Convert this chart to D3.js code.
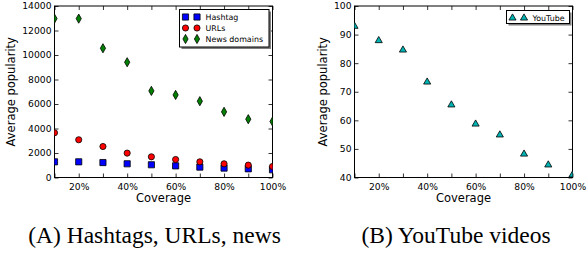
<!DOCTYPE html>
<html>
<head>
<meta charset="utf-8">
<script src="https://cdn.jsdelivr.net/npm/d3@7"></script>
<style>
  body { margin: 0; background: #fff; }
  svg text { font-family: "DejaVu Sans", sans-serif; fill: #000; }
  .caption { font-family: "Liberation Serif", "Times New Roman", serif; font-size: 23.5px; }
</style>
</head>
<body>
<div id="chart"></div>
<script>
// values
const coverage = [10, 20, 30, 40, 50, 60, 70, 80, 90, 100];
const hashtag = [1280, 1280, 1220, 1120, 1040, 950, 850, 770, 710, 630];
const urls = [3650, 3080, 2530, 1990, 1690, 1470, 1280, 1120, 1010, 900];
const news = [12970, 12970, 10550, 9410, 7070, 6740, 6230, 5360, 4760, 4570];
const youtube = [92.9, 87.9, 84.6, 73.4, 65.4, 58.7, 54.9, 48.2, 44.4, 40.9];

const yTicksA = [0, 2000, 4000, 6000, 8000, 10000, 12000, 14000];
const yTicksB = [40, 50, 60, 70, 80, 90, 100];

const width = 587;
const height = 257;

const svg = d3.select('#chart')
  .append('svg')
  .attr('width', width)
  .attr('height', height)

// marker shapes
const squareShape = d3.symbol(d3.symbolSquare, 38)
const circleShape = d3.symbol(d3.symbolCircle, 30)
const triangleShape = d3.symbol(d3.symbolTriangle, 22)
const thinDiamond = 'M0,-4.6L2.6,0L0,4.6L-2.6,0Z'

function drawPanel(opts) {
  const { id, x0, x1, y0, y1, yDomain, yTicks, series, legend, labelGap } = opts;

  const x = d3.scaleLinear().domain([10, 100]).range([x0, x1])
  const y = d3.scaleLinear().domain(yDomain).range([y1, y0])

  const g = svg.append('g').attr('id', id)

  g.append('clipPath').attr('id', id + '-clip')
    .append('rect')
    .attr('x', x0).attr('y', y0)
    .attr('width', x1 - x0).attr('height', y1 - y0)

  // axes with inward ticks, matplotlib style
  const fmtX = d => d % 20 === 0 ? d + '%' : ''
  g.append('g')
    .attr('transform', 'translate(0,' + y1 + ')')
    .call(d3.axisBottom(x).tickValues(coverage).tickFormat(fmtX).tickSizeInner(-4).tickSizeOuter(0).tickPadding(6))
  g.append('g')
    .attr('transform', 'translate(0,' + y0 + ')')
    .call(d3.axisTop(x).tickValues(coverage).tickFormat('').tickSizeInner(-4).tickSizeOuter(0))
  g.append('g')
    .attr('transform', 'translate(' + x0 + ',0)')
    .call(d3.axisLeft(y).tickValues(yTicks).tickFormat(d3.format('d')).tickSizeInner(-4).tickSizeOuter(0).tickPadding(3))
  g.append('g')
    .attr('transform', 'translate(' + x1 + ',0)')
    .call(d3.axisRight(y).tickValues(yTicks).tickFormat('').tickSizeInner(-4).tickSizeOuter(0))

  g.selectAll('.domain').remove()
  g.selectAll('.tick line').attr('stroke', '#000').attr('stroke-width', 0.8)
  g.selectAll('.tick text').style('font-size', '9.2px').attr('fill', '#000')

  // frame
  g.append('rect')
    .attr('x', x0).attr('y', y0)
    .attr('width', x1 - x0).attr('height', y1 - y0)
    .attr('fill', 'none').attr('stroke', '#000').attr('stroke-width', 1)

  // points
  const plot = g.append('g').attr('clip-path', 'url(#' + id + '-clip)')
  series.forEach(s => {
    plot.selectAll(null)
      .data(s.values)
      .enter()
      .append('path')
      .attr('d', s.shape)
      .attr('transform', (d, i) => 'translate(' + x(coverage[i]) + ',' + y(d) + ')')
      .attr('fill', s.color)
      .attr('stroke', '#000')
      .attr('stroke-width', 0.8)
  })

  // axis titles
  g.append('text')
    .attr('x', (x0 + x1) / 2).attr('y', 202)
    .attr('text-anchor', 'middle')
    .style('font-size', '11.5px')
    .text('Coverage')
  g.append('text')
    .attr('transform', 'translate(' + (x0 - labelGap) + ',' + ((y0 + y1) / 2) + ') rotate(-90)')
    .attr('text-anchor', 'middle')
    .style('font-size', '11.5px')
    .text('Average popularity')

  // legend with shadow
  const lg = g.append('g')
  lg.append('rect')
    .attr('x', legend.x + 2).attr('y', legend.y + 2)
    .attr('width', legend.w).attr('height', legend.h)
    .attr('fill', '#7f7f7f')
  lg.append('rect')
    .attr('x', legend.x).attr('y', legend.y)
    .attr('width', legend.w).attr('height', legend.h)
    .attr('fill', '#fff').attr('stroke', '#000').attr('stroke-width', 1)
  series.forEach((s, i) => {
    const ly = legend.y + 7.5 + i * 11
    ;[legend.x + 6, legend.x + 17.5].forEach(mx => {
      lg.append('path')
        .attr('d', s.shape)
        .attr('transform', 'translate(' + mx + ',' + ly + ')')
        .attr('fill', s.color)
        .attr('stroke', '#000')
        .attr('stroke-width', 0.8)
    })
    lg.append('text')
      .attr('x', legend.x + 26).attr('y', ly + 3)
      .style('font-size', '7.9px')
      .text(s.name)
  })
}

drawPanel({
  id: 'panelA', x0: 54.5, x1: 272.5, y0: 6, y1: 177.5,
  yDomain: [0, 14000], yTicks: yTicksA, labelGap: 40,
  series: [
    { name: 'Hashtag', values: hashtag, color: '#0000ff', shape: squareShape },
    { name: 'URLs', values: urls, color: '#ff0000', shape: circleShape },
    { name: 'News domains', values: news, color: '#008000', shape: thinDiamond }
  ],
  legend: { x: 179.5, y: 9.5, w: 89.5, h: 37.5 }
})

drawPanel({
  id: 'panelB', x0: 354.5, x1: 572.5, y0: 6, y1: 177.5,
  yDomain: [40, 100], yTicks: yTicksB, labelGap: 28,
  series: [
    { name: 'YouTube', values: youtube, color: '#00b3b3', shape: triangleShape }
  ],
  legend: { x: 506.5, y: 10.5, w: 63, h: 13 }
})

// captions
svg.append('text').attr('class', 'caption')
  .attr('x', 154.5).attr('y', 243)
  .attr('text-anchor', 'middle')
  .text('(A) Hashtags, URLs, news')
svg.append('text').attr('class', 'caption')
  .attr('x', 456).attr('y', 243)
  .attr('text-anchor', 'middle')
  .text('(B) YouTube videos')
</script>
</body>
</html>
